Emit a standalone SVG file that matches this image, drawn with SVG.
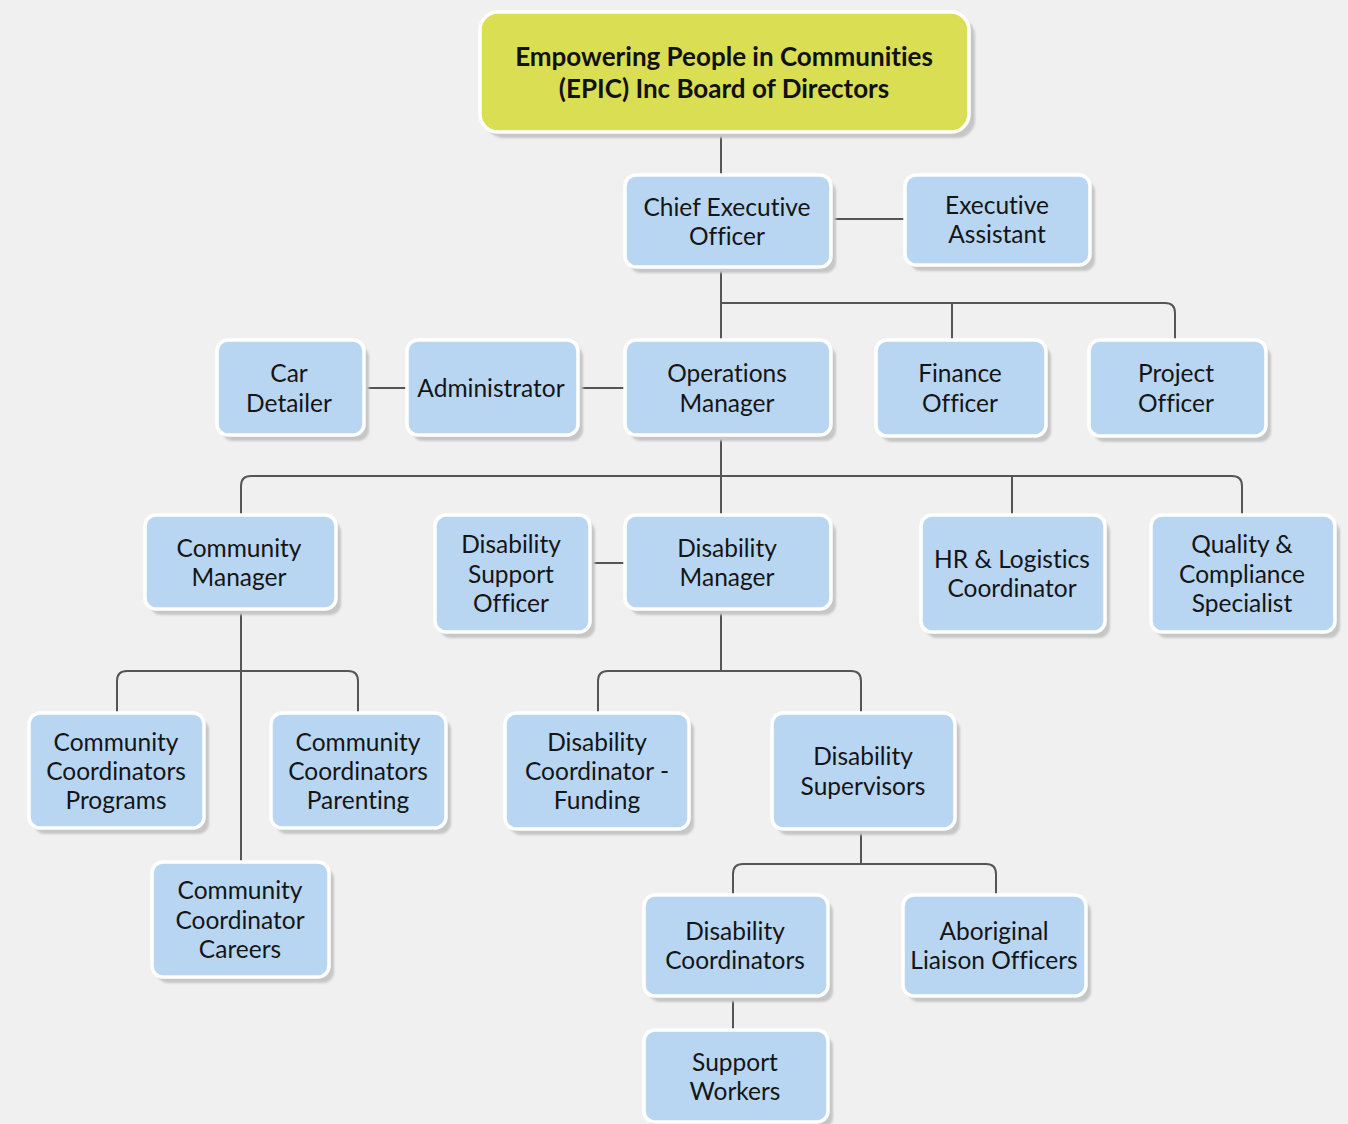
<svg xmlns="http://www.w3.org/2000/svg" width="1348" height="1124" viewBox="0 0 1348 1124">
<defs>
<filter id="sh" x="-10%" y="-10%" width="130%" height="130%"><feGaussianBlur stdDeviation="1.2"/></filter>
<style>
.bg{fill:#f0f0f0}
.s{fill:#c6c6c6;filter:url(#sh)}
.b{fill:#b8d6f2;stroke:#ffffff;stroke-width:3.5}
.y{fill:#d9de52;stroke:#ffffff;stroke-width:3.5}
.t{font-family:Lato,"Liberation Sans",sans-serif;font-size:24.5px;fill:#151515;text-anchor:middle;font-variant-ligatures:none;font-feature-settings:"liga" 0,"dlig" 0}
.tb{font-family:Lato,"Liberation Sans",sans-serif;font-size:26px;font-weight:bold;fill:#111;text-anchor:middle;font-variant-ligatures:none;font-feature-settings:"liga" 0,"dlig" 0}
.c{fill:none;stroke:#555555;stroke-width:2}
</style>
</defs>
<rect class="bg" x="0" y="0" width="1348" height="1124"/>
<g id="connectors">
<path class="c" d="M721 133 V175"/>
<path class="c" d="M831 219 H905"/>
<path class="c" d="M721 267 V340 M721 303 H1165 Q1175 303 1175 313 V340 M952 303 V340"/>
<path class="c" d="M364 388 H407 M578 388 H625"/>
<path class="c" d="M721 435 V515 M241 515 V486 Q241 476 251 476 H1232 Q1242 476 1242 486 V515 M1012 476 V515"/>
<path class="c" d="M590 563 H625"/>
<path class="c" d="M241 609 V862 M117 713 V681 Q117 671 127 671 H348 Q358 671 358 681 V713"/>
<path class="c" d="M721 609 V671 M598 713 V681 Q598 671 608 671 H851 Q861 671 861 681 V713"/>
<path class="c" d="M861 829 V864 M733 895 V874 Q733 864 743 864 H986 Q996 864 996 874 V895"/>
<path class="c" d="M733 996 V1030"/>
</g>
<g id="board"><rect class="s" x="486" y="18" width="489" height="120" rx="18"/><rect class="y" x="480" y="12" width="489" height="120" rx="18"/><text class="tb" x="724" y="66">Empowering People in Communities</text><text class="tb" x="724" y="98">(EPIC) Inc Board of Directors</text></g>
<g id="ceo"><rect class="s" x="630" y="181" width="206" height="92" rx="11"/><rect class="b" x="625" y="175" width="206" height="92" rx="11"/><text class="t" x="727" y="216">Chief Executive</text><text class="t" x="727" y="245">Officer</text></g>
<g id="ea"><rect class="s" x="910" y="181" width="185" height="90" rx="11"/><rect class="b" x="905" y="175" width="185" height="90" rx="11"/><text class="t" x="997" y="214">Executive</text><text class="t" x="997" y="243">Assistant</text></g>
<g id="car"><rect class="s" x="222" y="346" width="147" height="95" rx="11"/><rect class="b" x="217" y="340" width="147" height="95" rx="11"/><text class="t" x="289" y="382">Car</text><text class="t" x="289" y="412">Detailer</text></g>
<g id="admin"><rect class="s" x="412" y="346" width="171" height="95" rx="11"/><rect class="b" x="407" y="340" width="171" height="95" rx="11"/><text class="t" x="491" y="397">Administrator</text></g>
<g id="ops"><rect class="s" x="630" y="346" width="206" height="95" rx="11"/><rect class="b" x="625" y="340" width="206" height="95" rx="11"/><text class="t" x="727" y="382">Operations</text><text class="t" x="727" y="412">Manager</text></g>
<g id="finance"><rect class="s" x="881" y="346" width="170" height="96" rx="11"/><rect class="b" x="876" y="340" width="170" height="96" rx="11"/><text class="t" x="960" y="382">Finance</text><text class="t" x="960" y="412">Officer</text></g>
<g id="project"><rect class="s" x="1094" y="346" width="177" height="96" rx="11"/><rect class="b" x="1089" y="340" width="177" height="96" rx="11"/><text class="t" x="1176" y="382">Project</text><text class="t" x="1176" y="412">Officer</text></g>
<g id="commgr"><rect class="s" x="150" y="521" width="191" height="94" rx="11"/><rect class="b" x="145" y="515" width="191" height="94" rx="11"/><text class="t" x="239" y="557">Community</text><text class="t" x="239" y="586">Manager</text></g>
<g id="dso"><rect class="s" x="440" y="521" width="155" height="117" rx="11"/><rect class="b" x="435" y="515" width="155" height="117" rx="11"/><text class="t" x="511" y="553">Disability</text><text class="t" x="511" y="583">Support</text><text class="t" x="511" y="612">Officer</text></g>
<g id="dismgr"><rect class="s" x="630" y="521" width="206" height="94" rx="11"/><rect class="b" x="625" y="515" width="206" height="94" rx="11"/><text class="t" x="727" y="557">Disability</text><text class="t" x="727" y="586">Manager</text></g>
<g id="hr"><rect class="s" x="926" y="521" width="184" height="117" rx="11"/><rect class="b" x="921" y="515" width="184" height="117" rx="11"/><text class="t" x="1012" y="568">HR &amp; Logistics</text><text class="t" x="1012" y="597">Coordinator</text></g>
<g id="quality"><rect class="s" x="1156" y="521" width="184" height="117" rx="11"/><rect class="b" x="1151" y="515" width="184" height="117" rx="11"/><text class="t" x="1242" y="553">Quality &amp;</text><text class="t" x="1242" y="583">Compliance</text><text class="t" x="1242" y="612">Specialist</text></g>
<g id="ccprog"><rect class="s" x="34" y="719" width="175" height="115" rx="11"/><rect class="b" x="29" y="713" width="175" height="115" rx="11"/><text class="t" x="116" y="751">Community</text><text class="t" x="116" y="780">Coordinators</text><text class="t" x="116" y="809">Programs</text></g>
<g id="ccpar"><rect class="s" x="276" y="719" width="175" height="115" rx="11"/><rect class="b" x="271" y="713" width="175" height="115" rx="11"/><text class="t" x="358" y="751">Community</text><text class="t" x="358" y="780">Coordinators</text><text class="t" x="358" y="809">Parenting</text></g>
<g id="careers"><rect class="s" x="157" y="868" width="177" height="115" rx="11"/><rect class="b" x="152" y="862" width="177" height="115" rx="11"/><text class="t" x="240" y="899">Community</text><text class="t" x="240" y="929">Coordinator</text><text class="t" x="240" y="958">Careers</text></g>
<g id="funding"><rect class="s" x="510" y="719" width="184" height="116" rx="11"/><rect class="b" x="505" y="713" width="184" height="116" rx="11"/><text class="t" x="597" y="751">Disability</text><text class="t" x="597" y="780">Coordinator -</text><text class="t" x="597" y="809">Funding</text></g>
<g id="supervisors"><rect class="s" x="777" y="719" width="183" height="116" rx="11"/><rect class="b" x="772" y="713" width="183" height="116" rx="11"/><text class="t" x="863" y="765">Disability</text><text class="t" x="863" y="795">Supervisors</text></g>
<g id="discoord"><rect class="s" x="649" y="901" width="184" height="101" rx="11"/><rect class="b" x="644" y="895" width="184" height="101" rx="11"/><text class="t" x="735" y="940">Disability</text><text class="t" x="735" y="969">Coordinators</text></g>
<g id="aboriginal"><rect class="s" x="908" y="901" width="183" height="101" rx="11"/><rect class="b" x="903" y="895" width="183" height="101" rx="11"/><text class="t" x="994" y="940">Aboriginal</text><text class="t" x="994" y="969">Liaison Officers</text></g>
<g id="support"><rect class="s" x="649" y="1036" width="184" height="92" rx="11"/><rect class="b" x="644" y="1030" width="184" height="92" rx="11"/><text class="t" x="735" y="1071">Support</text><text class="t" x="735" y="1100">Workers</text></g>
</svg>
